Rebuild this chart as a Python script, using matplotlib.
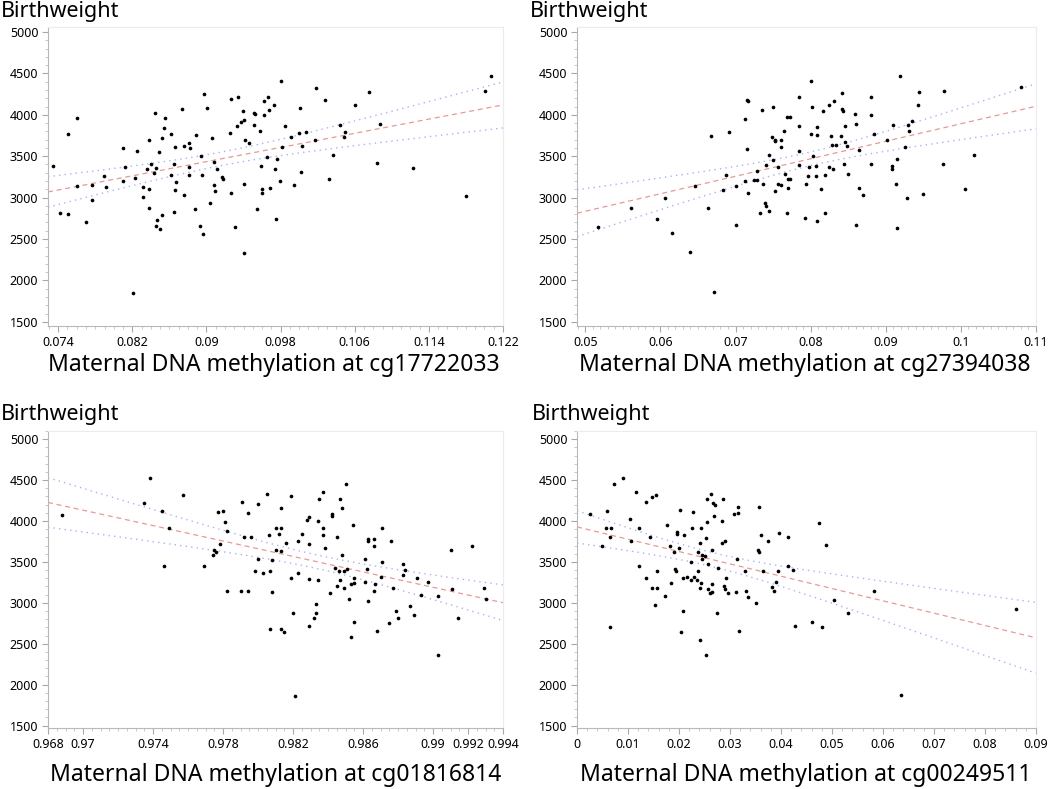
import numpy as np
import matplotlib
matplotlib.use('Agg')
import matplotlib.pyplot as plt
from matplotlib.ticker import MultipleLocator

plt.rcParams['font.family'] = ['Noto Sans', 'DejaVu Sans']

# ---- data ----
# cg17722033
x1 = [0.0734, 0.0751, 0.0760, 0.0760, 0.0777, 0.0792, 0.0789, 0.0810, 0.0812, 0.0810,
      0.0825, 0.0823, 0.0831, 0.0831, 0.0836, 0.0838, 0.0838, 0.0840, 0.0844, 0.0846,
      0.0843, 0.0849, 0.0852, 0.0854, 0.0855, 0.0862, 0.0865, 0.0862, 0.0867, 0.0866,
      0.0866, 0.0874, 0.0876, 0.0876, 0.0881, 0.0882, 0.0881, 0.0881, 0.0889, 0.0894,
      0.0895, 0.0897, 0.0901, 0.0906, 0.0908, 0.0911, 0.0908, 0.0909, 0.0917, 0.0918,
      0.0927, 0.0925, 0.0926, 0.0934, 0.0939, 0.0933, 0.0940, 0.0937, 0.0942, 0.0946,
      0.0940, 0.0951, 0.0951, 0.0742, 0.0751, 0.0770, 0.0777, 0.0838, 0.0847, 0.0852,
      0.0846, 0.0850, 0.0821, 0.0865, 0.0888, 0.0893, 0.0896, 0.0904, 0.0931, 0.0941,
      0.0955, 0.0980, 0.1018, 0.1028, 0.1075, 0.1207, 0.1201, 0.1060, 0.1001, 0.0966,
      0.0962, 0.0973, 0.0952, 0.0967, 0.0962, 0.0985, 0.0958, 0.0991, 0.1000, 0.1007,
      0.1044, 0.1050, 0.1048, 0.1087, 0.1017, 0.1003, 0.0981, 0.0965, 0.0976, 0.1037,
      0.0959, 0.0974, 0.1084, 0.1123, 0.1002, 0.0979, 0.1032, 0.0994, 0.0960, 0.0969,
      0.0960, 0.1180, 0.0975]
y1 = [3380, 3770, 3960, 3140, 3150, 3130, 3260, 3600, 3370, 3200,
      3560, 3240, 3130, 3010, 3350, 3100, 3690, 3400, 4020, 3360,
      3300, 3550, 3720, 3840, 3960, 3770, 3410, 3270, 3190, 3090,
      3610, 4070, 3620, 3030, 3660, 3600, 3370, 3270, 3760, 3500,
      3270, 4250, 4080, 3720, 3430, 3350, 3150, 3080, 3250, 3230,
      3060, 3780, 4190, 4220, 4050, 3870, 3940, 3910, 3690, 3660,
      3170, 4020, 3880, 2820, 2800, 2710, 2970, 2880, 2730, 2790,
      2660, 2620, 1850, 2830, 2860, 2660, 2560, 2940, 2640, 2330,
      2860, 4410, 4320, 4180, 4280, 4470, 4290, 4120, 4080, 4220,
      4170, 4120, 4010, 4060, 4000, 3870, 3810, 3730, 3780, 3790,
      3880, 3790, 3730, 3890, 3690, 3620, 3610, 3490, 3470, 3520,
      3380, 3350, 3420, 3360, 3310, 3200, 3230, 3150, 3100, 3120,
      3060, 3020, 2740]

# cg27394038
x2 = [0.0668, 0.0691, 0.0715, 0.0716, 0.0713, 0.0735, 0.0750, 0.0768, 0.0773, 0.0715,
      0.0765, 0.0749, 0.0752, 0.0753, 0.0760, 0.0760, 0.0744, 0.0750, 0.0741, 0.0756,
      0.0766, 0.0770, 0.0773, 0.0729, 0.0687, 0.0713, 0.0725, 0.0729, 0.0737, 0.0756,
      0.0760, 0.0770, 0.0701, 0.0683, 0.0646, 0.0717, 0.0753, 0.0606, 0.0561, 0.0517,
      0.0595, 0.0615, 0.0639, 0.0671, 0.0664, 0.0700, 0.0739, 0.0740, 0.0733, 0.0744,
      0.0769, 0.0800, 0.0919, 0.0785, 0.0842, 0.0880, 0.0944, 0.0977, 0.1080, 0.0825,
      0.0831, 0.0802, 0.0842, 0.0843, 0.0943, 0.0817, 0.0859, 0.0880, 0.0784, 0.0809,
      0.0846, 0.0860, 0.0909, 0.0929, 0.0935, 0.0800, 0.0809, 0.0827, 0.0841, 0.0884,
      0.0931, 0.0829, 0.0834, 0.0846, 0.0849, 0.0902, 0.0925, 0.0785, 0.0864, 0.0803,
      0.1017, 0.0915, 0.0784, 0.0845, 0.0880, 0.0976, 0.0798, 0.0807, 0.0825, 0.0830,
      0.0908, 0.0908, 0.0796, 0.0807, 0.0819, 0.0850, 0.0794, 0.0814, 0.0864, 0.0913,
      0.0870, 0.0928, 0.0949, 0.1006, 0.0793, 0.0809, 0.0819, 0.0860, 0.0915]
y2 = [3740, 3790, 4180, 4170, 3950, 4060, 4090, 3970, 3970, 3590,
      3800, 3730, 3680, 3700, 3700, 3610, 3520, 3450, 3390, 3370,
      3290, 3230, 3230, 3320, 3270, 3200, 3210, 3210, 3160, 3160,
      3150, 3120, 3140, 3090, 3140, 3060, 3080, 2990, 2870, 2640,
      2740, 2570, 2340, 1860, 2870, 2670, 2940, 2900, 2810, 2840,
      2810, 4410, 4470, 4220, 4260, 4220, 4280, 4290, 4330, 4120,
      4170, 4090, 4070, 4050, 4120, 4040, 4010, 4000, 3870, 3850,
      3870, 3890, 3880, 3880, 3920, 3770, 3760, 3740, 3740, 3770,
      3800, 3640, 3630, 3670, 3620, 3690, 3610, 3560, 3570, 3500,
      3510, 3470, 3390, 3410, 3400, 3410, 3370, 3380, 3370, 3350,
      3380, 3350, 3260, 3260, 3270, 3290, 3160, 3110, 3120, 3170,
      3030, 3000, 3040, 3100, 2750, 2720, 2810, 2670, 2630]

# cg01816814
x3 = [0.9688, 0.9738, 0.9735, 0.9745, 0.9749, 0.9757, 0.9746, 0.9769, 0.9777, 0.9780,
      0.9781, 0.9782, 0.9778, 0.9775, 0.9776, 0.9774, 0.9791, 0.9794, 0.9800, 0.9792,
      0.9796, 0.9800, 0.9798, 0.9782, 0.9790, 0.9794, 0.9850, 0.9837, 0.9805, 0.9819,
      0.9835, 0.9847, 0.9813, 0.9848, 0.9842, 0.9842, 0.9829, 0.9828, 0.9834, 0.9854,
      0.9810, 0.9813, 0.9837, 0.9871, 0.9806, 0.9812, 0.9825, 0.9837, 0.9823, 0.9845,
      0.9863, 0.9863, 0.9866, 0.9816, 0.9829, 0.9866, 0.9876, 0.9838, 0.9810, 0.9813,
      0.9910, 0.9922, 0.9848, 0.9808, 0.9861, 0.9871, 0.9883, 0.9862, 0.9884, 0.9844,
      0.9846, 0.9849, 0.9851, 0.9803, 0.9807, 0.9823, 0.9883, 0.9870, 0.9819, 0.9829,
      0.9834, 0.9847, 0.9855, 0.9861, 0.9891, 0.9897, 0.9867, 0.9853, 0.9855, 0.9845,
      0.9849, 0.9877, 0.9866, 0.9911, 0.9929, 0.9808, 0.9841, 0.9893, 0.9903, 0.9930,
      0.9852, 0.9863, 0.9887, 0.9889, 0.9879, 0.9880, 0.9875, 0.9868, 0.9853, 0.9855,
      0.9833, 0.9833, 0.9832, 0.9829, 0.9820, 0.9807, 0.9813, 0.9815, 0.9821, 0.9903,
      0.9914]
y3 = [4070, 4520, 4220, 4120, 3920, 4320, 3450, 3450, 4110, 4120,
      3990, 3880, 3720, 3650, 3620, 3590, 4230, 4100, 4210, 3810,
      3800, 3540, 3390, 3150, 3140, 3150, 4450, 4360, 4330, 4300,
      4270, 4270, 4160, 4160, 4080, 4060, 4050, 4010, 4000, 3950,
      3910, 3910, 3910, 3910, 3830, 3840, 3840, 3830, 3760, 3800,
      3780, 3760, 3780, 3730, 3720, 3700, 3750, 3670, 3640, 3630,
      3640, 3690, 3590, 3520, 3530, 3500, 3470, 3410, 3400, 3420,
      3390, 3390, 3410, 3370, 3390, 3370, 3340, 3310, 3300, 3290,
      3280, 3280, 3300, 3250, 3300, 3250, 3230, 3230, 3240, 3200,
      3180, 3180, 3140, 3170, 3180, 3130, 3120, 3090, 3080, 3050,
      3050, 3020, 2960, 2850, 2900, 2820, 2750, 2650, 2580, 2760,
      2990, 2880, 2820, 2720, 2880, 2680, 2680, 2640, 1860, 2360,
      2820]

# cg00249511
x4 = [0.0026, 0.0073, 0.0090, 0.0059, 0.0116, 0.0136, 0.0147, 0.0155, 0.0104, 0.0122,
      0.0057, 0.0067, 0.0065, 0.0049, 0.0106, 0.0143, 0.0177, 0.0202, 0.0228, 0.0197,
      0.0197, 0.0210, 0.0183, 0.0200, 0.0191, 0.0226, 0.0244, 0.0252, 0.0242, 0.0255,
      0.0255, 0.0263, 0.0267, 0.0271, 0.0287, 0.0269, 0.0285, 0.0307, 0.0316, 0.0316,
      0.0356, 0.0291, 0.0285, 0.0265, 0.0238, 0.0246, 0.0250, 0.0246, 0.0224, 0.0257,
      0.0277, 0.0314, 0.0330, 0.0354, 0.0357, 0.0360, 0.0375, 0.0397, 0.0413, 0.0413,
      0.0423, 0.0364, 0.0395, 0.0122, 0.0136, 0.0157, 0.0147, 0.0157, 0.0173, 0.0185,
      0.0193, 0.0195, 0.0208, 0.0216, 0.0224, 0.0230, 0.0236, 0.0238, 0.0244, 0.0242,
      0.0257, 0.0261, 0.0265, 0.0265, 0.0289, 0.0291, 0.0293, 0.0297, 0.0312, 0.0332,
      0.0336, 0.0383, 0.0387, 0.0391, 0.0474, 0.0489, 0.0503, 0.0582, 0.0532, 0.0460,
      0.0481, 0.0428, 0.0635, 0.0860, 0.0065, 0.0204, 0.0253, 0.0318, 0.0208, 0.0275,
      0.0350, 0.0153, 0.0242]
y4 = [4080, 4450, 4520, 4120, 4360, 4230, 4290, 4320, 4030, 3920,
      3910, 3910, 3810, 3700, 3750, 3800, 3950, 4130, 4110, 3860,
      3840, 3830, 3700, 3670, 3620, 3910, 3920, 3790, 3730, 3990,
      4270, 4330, 4220, 4200, 4270, 4060, 4000, 4080, 4170, 4100,
      4170, 3760, 3730, 3650, 3620, 3590, 3570, 3530, 3500, 3480,
      3430, 3540, 3390, 3640, 3620, 3830, 3760, 3850, 3800, 3450,
      3400, 3390, 3390, 3450, 3300, 3390, 3180, 3180, 3080, 3240,
      3410, 3390, 3300, 3320, 3280, 3320, 3280, 3390, 3240, 3180,
      3170, 3120, 3130, 3230, 3210, 3170, 3300, 3120, 3130, 3140,
      3070, 3190, 3150, 3250, 3980, 3710, 3040, 3140, 2870, 2760,
      2700, 2720, 1870, 2920, 2710, 2640, 2360, 2660, 2900, 2870,
      3000, 2970, 2550]

cpg_names = ['cg17722033', 'cg27394038', 'cg01816814', 'cg00249511']

xticks1 = [0.074, 0.082, 0.09, 0.098, 0.106, 0.114, 0.122]
xticks2 = [0.05, 0.06, 0.07, 0.08, 0.09, 0.1, 0.11]
xticks3 = [0.968, 0.97, 0.974, 0.978, 0.982, 0.986, 0.99, 0.992, 0.994]
xticks4 = [0, 0.01, 0.02, 0.03, 0.04, 0.05, 0.06, 0.07, 0.08, 0.09]
yticks = [1500, 2000, 2500, 3000, 3500, 4000, 4500, 5000]

W, H = 1050, 789


def draw_panel(rect, x, y, xticks, xlim, ylim, xminor, name, title_px, label_px):
    ax = fig.add_axes(rect)
    x = np.array(x)
    y = np.array(y)

    # least squares line with 95% confidence band of the mean
    b, a = np.polyfit(x, y, 1)
    n = len(x)
    xs = np.linspace(xlim[0], xlim[1], 200)
    fit = a + b * xs
    s = np.sqrt(np.sum((y - (a + b * x)) ** 2) / (n - 2))
    sxx = np.sum((x - x.mean()) ** 2)
    band = 1.98 * s * np.sqrt(1.0 / n + (xs - x.mean()) ** 2 / sxx)
    ax.plot(xs, fit, color='#e08080', lw=0.9, ls=(0, (4, 3)), alpha=0.8)
    ax.plot(xs, fit + band, color='#8c8cf5', lw=1.0, ls=(0, (1, 3)), alpha=0.7)
    ax.plot(xs, fit - band, color='#8c8cf5', lw=1.0, ls=(0, (1, 3)), alpha=0.7)

    ax.scatter(x, y, s=7, c='black', linewidths=0, zorder=3)

    ax.set_xlim(xlim)
    ax.set_ylim(ylim)
    ax.set_xticks(xticks)
    ax.set_xticklabels([('%g' % t) for t in xticks])
    ax.set_yticks(yticks)
    ax.xaxis.set_minor_locator(MultipleLocator(xminor))
    ax.yaxis.set_minor_locator(MultipleLocator(100))
    ax.tick_params(axis='both', which='major', labelsize=9, colors='#a8a8a8',
                   labelcolor='black', length=4, width=0.8, pad=3)
    ax.tick_params(axis='both', which='minor', colors='#c8c8c8', length=2.5, width=0.7)

    for side in ['left', 'bottom']:
        ax.spines[side].set_color('#b8b8b8')
    for side in ['top', 'right']:
        ax.spines[side].set_color('#ececec')

    fig.text(title_px[0] / W, 1 - title_px[1] / H, 'Birthweight', fontsize=15.5,
             ha='left', va='center')
    fig.text(label_px[0] / W, 1 - label_px[1] / H, 'Maternal DNA methylation at ' + name,
             fontsize=16.5, ha='left', va='center')
    return ax


fig = plt.figure(figsize=(10.5, 7.89), dpi=100)

draw_panel([48 / W, 1 - 326 / H, 455 / W, 299 / H], x1, y1, xticks1,
           (0.0729, 0.1220), (1450, 5060), 0.001, cpg_names[0], (1, 12), (48, 365))
draw_panel([577 / W, 1 - 326 / H, 459 / W, 299 / H], x2, y2, xticks2,
           (0.0489, 0.1100), (1450, 5060), 0.001, cpg_names[1], (530, 12), (579, 365))
draw_panel([48 / W, 1 - 728 / H, 455 / W, 297 / H], x3, y3, xticks3,
           (0.9680, 0.9940), (1470, 5100), 0.0005, cpg_names[2], (1, 414), (50, 775))
draw_panel([577 / W, 1 - 728 / H, 459 / W, 297 / H], x4, y4, xticks4,
           (0.0, 0.0900), (1470, 5100), 0.002, cpg_names[3], (532, 414), (580, 775))

plt.savefig('out.png', dpi=100)
